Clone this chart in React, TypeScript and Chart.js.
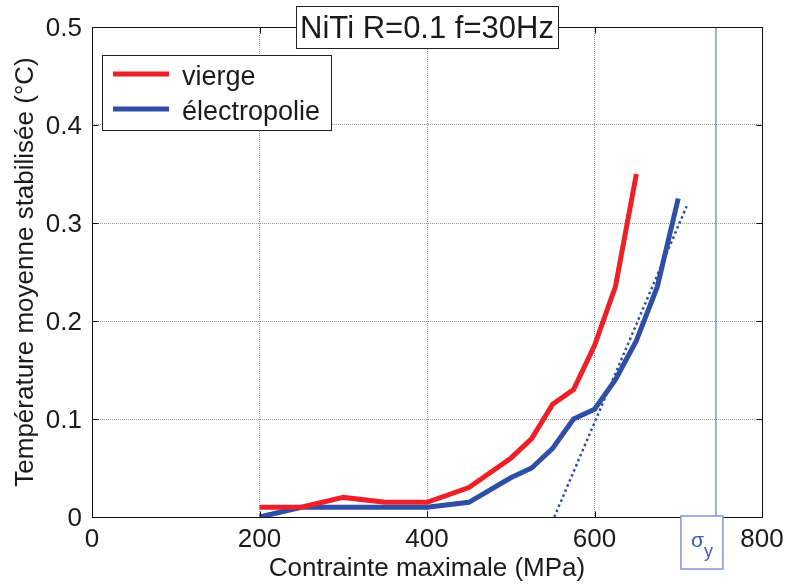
import React, { useEffect, useRef } from "react";
import { Chart, registerables } from "chart.js";

Chart.register(...registerables);

const titleText = "NiTi R=0.1 f=30Hz";
const xTitle = "Contrainte maximale (MPa)";
const yTitle = "Température moyenne stabilisée (°C)";

const xTicks = [0, 200, 400, 600, 800];
const yTicks = [0, 0.1, 0.2, 0.3, 0.4, 0.5];
const xTickLabels = ["0", "200", "400", "600", "800"];
const yTickLabels = ["0", "0.1", "0.2", "0.3", "0.4", "0.5"];

const stressVierge = [200, 250, 300, 350, 400, 450, 500, 525, 550, 575, 600, 625, 650];
const tempVierge = [0.01, 0.01, 0.02, 0.015, 0.015, 0.03, 0.06, 0.08, 0.115, 0.13, 0.175, 0.235, 0.35];

const stressElectro = [200, 250, 300, 350, 400, 450, 500, 525, 550, 575, 600, 625, 650, 675, 700];
const tempElectro = [0, 0.01, 0.01, 0.01, 0.01, 0.015, 0.04, 0.05, 0.07, 0.1, 0.11, 0.14, 0.18, 0.235, 0.325];

const fitStress = [552, 710];
const fitTemp = [0, 0.317];

const sigmaY = 745;
const sigmaLineTemp = [0, 0.5];

const seriesNames = ["vierge", "électropolie"];

const RED = "#ee2027";
const BLUE = "#2f4fa6";
const LIGHTBLUE = "#7d97d4";
const FONT = "'Liberation Sans', Arial, Helvetica, sans-serif";

const decor = {
  id: "decor",
  afterDatasetsDraw(chart: any) {
    const { ctx, chartArea: a, scales } = chart;
    const x = scales.x;
    const y = scales.y;
    ctx.save();
    const L = Math.round(a.left) + 0.5;
    const R = Math.round(a.right) + 0.5;
    const T = Math.round(a.top) + 0.5;
    const B = Math.round(a.bottom) + 0.5;
    // frame
    ctx.strokeStyle = "#111";
    ctx.lineWidth = 1;
    ctx.beginPath();
    ctx.rect(L, T, R - L, B - T);
    ctx.stroke();
    // inward ticks
    const tl = 6;
    ctx.beginPath();
    xTicks.forEach((v) => {
      const px = Math.round(x.getPixelForValue(v)) + 0.5;
      ctx.moveTo(px, B);
      ctx.lineTo(px, B - tl);
      ctx.moveTo(px, T);
      ctx.lineTo(px, T + tl);
    });
    yTicks.forEach((v) => {
      const py = Math.round(y.getPixelForValue(v)) + 0.5;
      ctx.moveTo(L, py);
      ctx.lineTo(L + tl, py);
      ctx.moveTo(R, py);
      ctx.lineTo(R - tl, py);
    });
    ctx.stroke();

    // tick labels
    ctx.fillStyle = "#1a1a1a";
    ctx.font = `26px ${FONT}`;
    ctx.textBaseline = "alphabetic";
    ctx.textAlign = "center";
    xTicks.forEach((v, i) => {
      ctx.fillText(xTickLabels[i], x.getPixelForValue(v), a.bottom + 30);
    });
    ctx.textAlign = "right";
    yTicks.forEach((v, i) => {
      ctx.fillText(yTickLabels[i], a.left - 10, y.getPixelForValue(v) + 9);
    });

    // axis titles
    ctx.textAlign = "center";
    ctx.fillText(xTitle, (a.left + a.right) / 2, 576);
    ctx.save();
    ctx.translate(33, 272);
    ctx.rotate(-Math.PI / 2);
    ctx.fillText(yTitle, 0, 0);
    ctx.restore();

    // title box
    ctx.fillStyle = "#fff";
    ctx.fillRect(296, 6, 262, 42);
    ctx.strokeStyle = "#222";
    ctx.lineWidth = 1;
    ctx.strokeRect(296.5, 6.5, 262, 42);
    ctx.fillStyle = "#1a1a1a";
    ctx.font = `31px ${FONT}`;
    ctx.textAlign = "center";
    ctx.fillText(titleText, 427, 38);

    // legend
    ctx.fillStyle = "#fff";
    ctx.fillRect(102, 55, 229, 75);
    ctx.strokeStyle = "#222";
    ctx.strokeRect(102.5, 55.5, 229, 75);
    const ds = chart.data.datasets;
    [0, 1].forEach((k, i) => {
      const ly = 74 + i * 35;
      ctx.strokeStyle = ds[k].borderColor;
      ctx.lineWidth = 5;
      ctx.beginPath();
      ctx.moveTo(113, ly);
      ctx.lineTo(169, ly);
      ctx.stroke();
      ctx.fillStyle = "#1a1a1a";
      ctx.font = `27px ${FONT}`;
      ctx.textAlign = "left";
      ctx.fillText(seriesNames[i], 182, ly + 11);
    });

    // sigma_y box
    const sx = x.getPixelForValue(sigmaY);
    ctx.fillStyle = "#fff";
    ctx.fillRect(sx - 35, 516, 42, 53);
    ctx.strokeStyle = LIGHTBLUE;
    ctx.lineWidth = 1.5;
    ctx.strokeRect(sx - 35, 516, 42, 53);
    ctx.fillStyle = "#3a5cb0";
    ctx.textAlign = "left";
    ctx.font = `21px ${FONT}`;
    ctx.fillText("σ", sx - 25, 547);
    ctx.font = `18px ${FONT}`;
    ctx.fillText("y", sx - 12, 557);
    ctx.restore();
  },
};

export default function App() {
  const ref = useRef<HTMLCanvasElement>(null);
  useEffect(() => {
    if (!ref.current) return;
    const chart = new Chart(ref.current, {
      type: "line",
      data: {
        datasets: [
          {
            label: seriesNames[0],
            data: stressVierge.map((s, i) => ({ x: s, y: tempVierge[i] })),
            borderColor: RED,
            borderWidth: 5,
            pointRadius: 0,
            tension: 0,
          },
          {
            label: seriesNames[1],
            data: stressElectro.map((s, i) => ({ x: s, y: tempElectro[i] })),
            borderColor: BLUE,
            borderWidth: 5,
            pointRadius: 0,
            tension: 0,
          },
          {
            label: "fit",
            data: fitStress.map((s, i) => ({ x: s, y: fitTemp[i] })),
            borderColor: BLUE,
            borderWidth: 2.5,
            borderDash: [2.5, 3],
            pointRadius: 0,
          },
          {
            label: "sigma_y",
            data: sigmaLineTemp.map((t) => ({ x: sigmaY, y: t })),
            borderColor: LIGHTBLUE,
            borderWidth: 1.5,
            pointRadius: 0,
          },
        ],
      },
      options: {
        animation: false,
        responsive: false,
        devicePixelRatio: 1,
        layout: { padding: { left: 0, top: 27, right: 28, bottom: 0 } },
        plugins: { legend: { display: false }, tooltip: { enabled: false }, title: { display: false } },
        scales: {
          x: {
            type: "linear",
            min: 0,
            max: 800,
            ticks: { display: false, stepSize: 200 },
            grid: { color: "#9a9a9a", lineWidth: 1, drawTicks: false },
            border: { display: false, dash: [1, 1] },
            afterFit: (s: any) => {
              s.height = 68;
            },
          },
          y: {
            type: "linear",
            min: 0,
            max: 0.5,
            ticks: { display: false, stepSize: 0.1 },
            grid: { color: "#9a9a9a", lineWidth: 1, drawTicks: false },
            border: { display: false, dash: [1, 1] },
            afterFit: (s: any) => {
              s.width = 92;
            },
          },
        },
      },
      plugins: [decor],
    });
    return () => chart.destroy();
  }, []);
  return (
    <canvas
      ref={ref}
      width={790}
      height={585}
      style={{ position: "absolute", left: 0, top: 0, display: "block" }}
    />
  );
}
